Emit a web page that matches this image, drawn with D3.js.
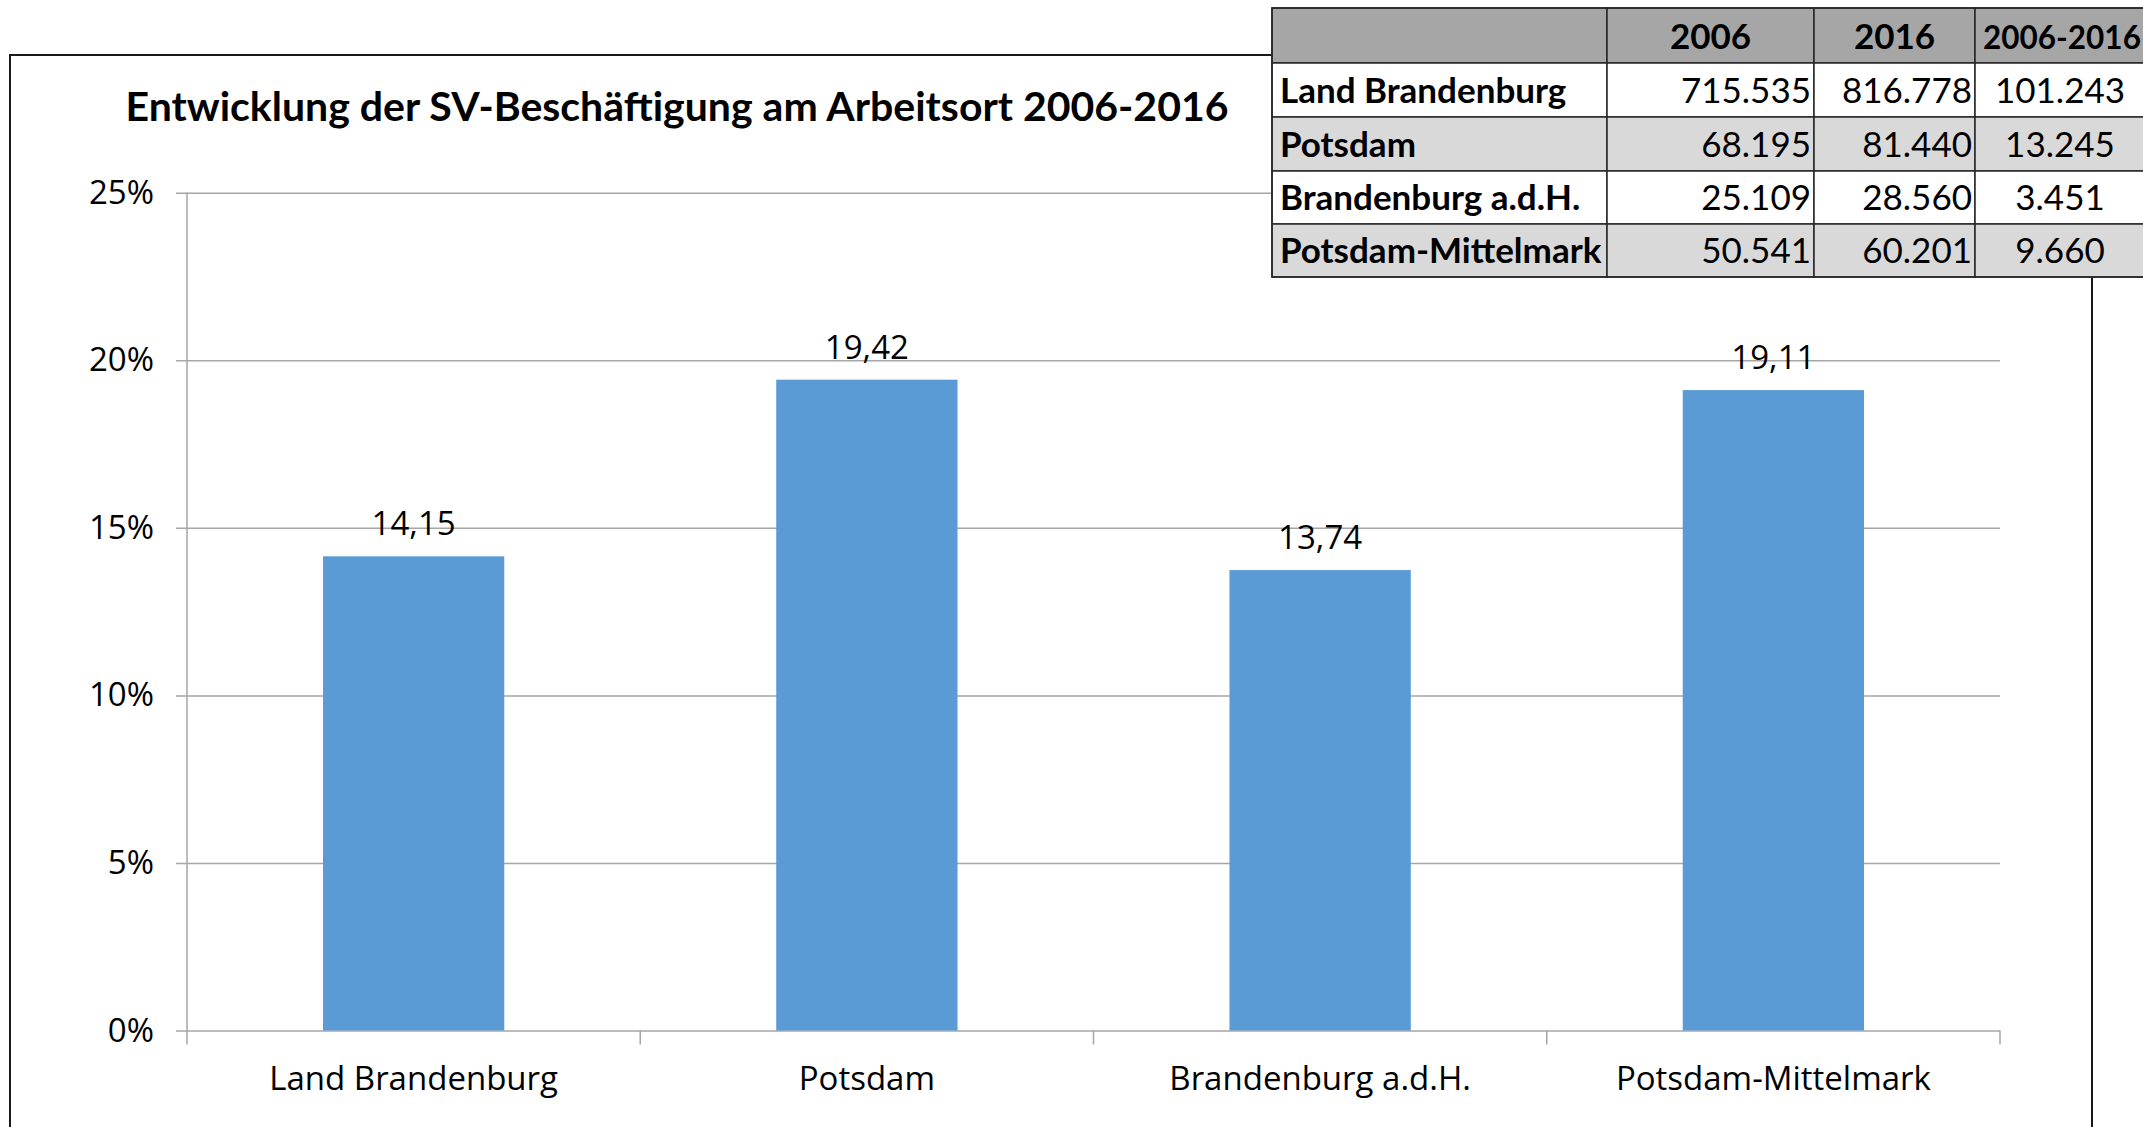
<!DOCTYPE html>
<meta charset="utf-8">
<style>
body { margin: 0; background: #fff; }
svg { display: block; }
.frame { fill: none; stroke: #1a1a1a; stroke-width: 2; }
.grid line { stroke: #a6a6a6; stroke-width: 1.5; }
.grid .domain { display: none; }
.grid text { font-family: "Open Sans", sans-serif; font-size: 33px; fill: #000; }
.axis-line { stroke: #a6a6a6; stroke-width: 1.5; }
.xlabel { font-family: "Open Sans", sans-serif; font-size: 33px; fill: #000; }
.value { font-family: "Open Sans", sans-serif; font-size: 33px; fill: #000; }
.title { font-family: Lato, sans-serif; font-weight: bold; font-size: 41px; fill: #000; }
.tbl text { font-family: Lato, sans-serif; font-size: 35px; fill: #000; }
.tbl .bold { font-weight: bold; }
.tbl rect { stroke: #262626; stroke-width: 1.5; }
</style>
<svg width="2143" height="1127"></svg>
<script src="https://d3js.org/d3.v7.min.js"></script>
<script>

var regions = ["Land Brandenburg", "Potsdam", "Brandenburg a.d.H.", "Potsdam-Mittelmark"];
var growth = [14.15, 19.42, 13.74, 19.11];
var yTicks = [0, 5, 10, 15, 20, 25];

var tableHeader = ["", "2006", "2016", "2006-2016"];
var jobs2006 = ["715.535", "68.195", "25.109", "50.541"];
var jobs2016 = ["816.778", "81.440", "28.560", "60.201"];
var jobsDiff = ["101.243", "13.245", "3.451", "9.660"];

var svg = d3.select("svg"),
    width = +svg.attr("width"),
    height = +svg.attr("height");

var plotLeft = 187, plotRight = 2000, plotTop = 192.7, plotBottom = 1030.5;

var x = d3.scaleBand()
    .domain(regions)
    .range([plotLeft, plotRight])
    .paddingInner(0.6)
    .paddingOuter(0.3);

var y = d3.scaleLinear()
    .domain([0, 25])
    .range([plotBottom, plotTop]);

// chart border (open at the bottom, cut by the page)
svg.append("path")
    .attr("class", "frame")
    .attr("d", "M10," + (height + 5) + "V55H2092V" + (height + 5));

svg.append("text")
    .attr("class", "title")
    .attr("x", 677)
    .attr("y", 121)
    .attr("text-anchor", "middle")
    .text("Entwicklung der SV-Beschäftigung am Arbeitsort 2006-2016");

// gridlines + y labels
svg.append("g")
    .attr("class", "grid")
    .attr("transform", "translate(" + (plotLeft - 11) + ",0)")
    .call(d3.axisLeft(y)
      .tickValues(yTicks)
      .tickSizeInner(-(plotRight - plotLeft + 11))
      .tickSizeOuter(0)
      .tickPadding(22)
      .tickFormat(function(d) { return d + "%"; }));

svg.append("line")
    .attr("class", "axis-line")
    .attr("x1", plotLeft).attr("x2", plotLeft)
    .attr("y1", plotTop).attr("y2", plotBottom);

// category separators below the baseline
svg.append("g")
  .selectAll("line")
  .data(d3.range(regions.length + 1))
  .enter().append("line")
    .attr("class", "axis-line")
    .attr("x1", function(i) { return plotLeft + i * x.step(); })
    .attr("x2", function(i) { return plotLeft + i * x.step(); })
    .attr("y1", plotBottom)
    .attr("y2", plotBottom + 14);

svg.append("g")
  .selectAll("rect")
  .data(regions)
  .enter().append("rect")
    .attr("x", function(d) { return x(d); })
    .attr("width", x.bandwidth())
    .attr("y", function(d, i) { return y(growth[i]); })
    .attr("height", function(d, i) { return plotBottom - y(growth[i]); })
    .attr("fill", "#5b9bd5");

svg.append("g")
  .selectAll("text")
  .data(regions)
  .enter().append("text")
    .attr("class", "value")
    .attr("x", function(d) { return x(d) + x.bandwidth() / 2; })
    .attr("y", function(d, i) { return y(growth[i]) - 21; })
    .attr("text-anchor", "middle")
    .text(function(d, i) { return growth[i].toFixed(2).replace(".", ","); });

svg.append("g")
  .selectAll("text")
  .data(regions)
  .enter().append("text")
    .attr("class", "xlabel")
    .attr("x", function(d) { return x(d) + x.bandwidth() / 2; })
    .attr("y", 1090)
    .attr("text-anchor", "middle")
    .text(function(d) { return d; });

// the data table pasted over the top right corner
var colEdges = [1272, 1607, 1814, 1975, 2146];
var rowEdges = [8, 63, 117, 171, 224, 277];
var rowFill = ["#a6a6a6", "#ffffff", "#d9d9d9", "#ffffff", "#d9d9d9"];

var rows = [tableHeader].concat(regions.map(function(r, i) {
  return [r, jobs2006[i], jobs2016[i], jobsDiff[i]];
}));

var tbl = svg.append("g").attr("class", "tbl");

rows.forEach(function(row, ri) {
  row.forEach(function(cell, ci) {
    var x0 = colEdges[ci], x1 = colEdges[ci + 1],
        y0 = rowEdges[ri], y1 = rowEdges[ri + 1];
    tbl.append("rect")
      .attr("x", x0).attr("y", y0)
      .attr("width", x1 - x0).attr("height", y1 - y0)
      .attr("fill", rowFill[ri]);
    var t = tbl.append("text")
      .attr("y", y1 - 14)
      .text(cell);
    if (ri === 0 && ci === 3) {
      // last header is squeezed against the page edge
      t.attr("class", "bold").attr("x", x0 + 8).style("font-size", "31.5px");
    } else if (ri === 0) {
      t.attr("class", "bold").attr("x", (x0 + x1) / 2).attr("text-anchor", "middle");
    } else if (ci === 0) {
      t.attr("class", "bold").attr("x", x0 + 8);
    } else if (ci === 3) {
      t.attr("x", 2060).attr("text-anchor", "middle");
    } else {
      t.attr("x", x1 - 3).attr("text-anchor", "end");
    }
  });
});

tbl.append("rect")
    .attr("x", colEdges[0]).attr("y", rowEdges[0])
    .attr("width", colEdges[4] - colEdges[0])
    .attr("height", rowEdges[5] - rowEdges[0])
    .attr("fill", "none")
    .attr("stroke-width", 2.5);

</script>
